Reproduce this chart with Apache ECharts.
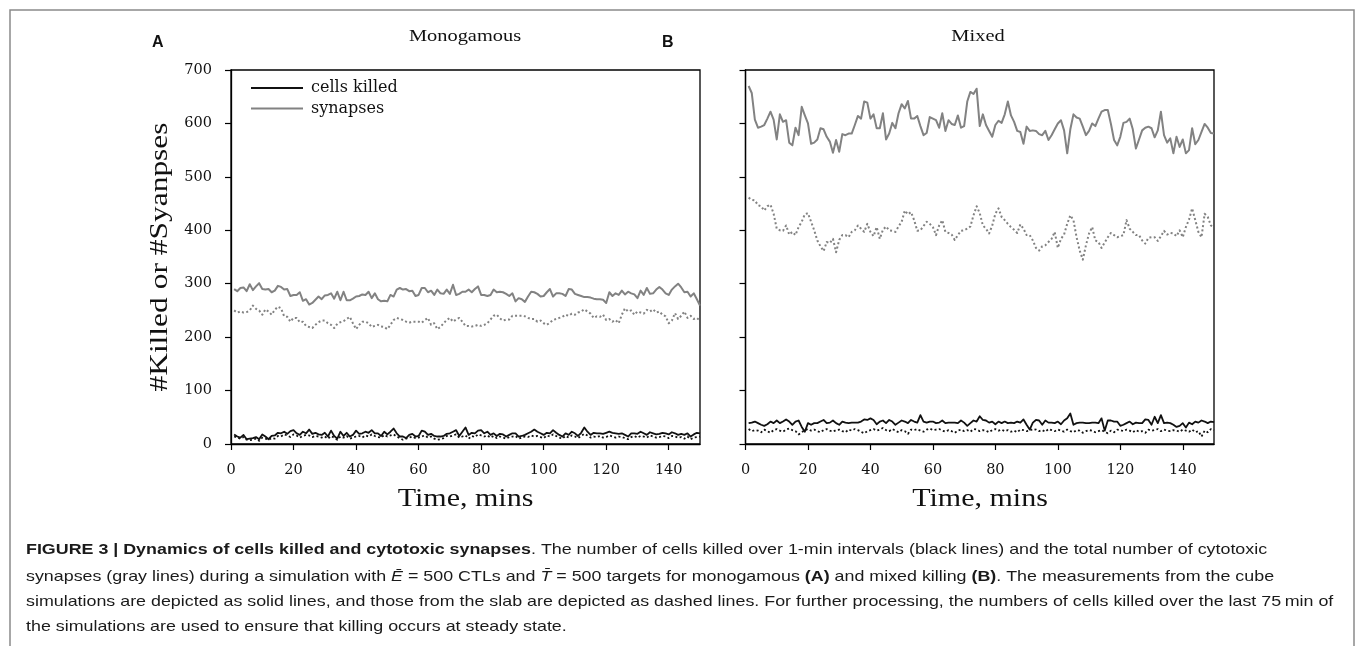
<!DOCTYPE html>
<html><head><meta charset="utf-8">
<script src="https://cdn.jsdelivr.net/npm/echarts@6/dist/echarts.min.js"></script>
<style>html,body{margin:0;padding:0;background:#fff}#c{width:1355px;height:646px}</style>
</head><body><div id="c"></div>
<script>
// time steps (minutes)
const times = Array.from({length:150}, (_, i) => i + 1);
const xTicks = [0, 20, 40, 60, 80, 100, 120, 140];

// Monogamous: synapses (cube, solid)
const monoSynCube = [
290,286,292,293,286,299,288,295,301,290,
289,290,284,287,296,294,289,290,277,279,
279,284,268,271,261,264,270,276,271,278,
279,282,272,285,269,285,269,269,272,276,
277,280,279,285,273,282,271,267,268,267,
279,276,289,292,289,290,286,287,277,279,
292,292,284,287,279,289,282,281,289,281,
298,279,281,285,285,289,284,290,295,279,
279,277,279,289,284,285,284,281,277,282,
267,273,271,266,276,285,284,281,276,277,
284,290,276,282,282,281,277,290,289,281,
279,277,275,275,274,272,271,271,270,264,
284,277,282,279,287,280,285,282,280,273,
287,279,292,281,282,289,294,289,282,279,
289,295,300,293,284,285,276,282,271,259];
// Monogamous: synapses (slab, dotted)
const monoSynSlab = [
250,246,248,246,247,250,259,253,250,242,
252,248,242,251,257,254,239,238,229,236,
236,228,229,221,219,217,223,228,231,231,
226,223,217,225,228,230,234,238,226,215,
223,229,229,226,219,221,223,220,219,215,
223,232,236,234,232,229,227,229,229,229,
227,232,236,223,226,215,219,226,232,236,
229,233,236,229,221,221,220,221,223,221,
223,226,233,240,242,235,231,233,233,240,
240,240,240,239,236,234,234,229,231,226,
223,227,232,234,236,238,242,240,244,242,
246,248,252,248,244,236,239,238,242,232,
234,229,232,226,242,254,248,250,242,248,
246,244,251,248,252,246,248,242,239,226,
231,245,234,240,248,236,240,234,236,231];
// Monogamous: cells killed (cube, solid)
const monoKillCube = [
18,14,12,17,9,10,11,13,9,18,
14,9,15,16,21,20,23,19,24,26,
20,17,23,20,27,19,21,18,17,21,
14,25,15,10,23,15,21,14,17,25,
19,20,23,21,26,20,20,15,23,18,
23,29,20,14,14,11,17,19,14,15,
25,23,17,19,15,14,14,15,19,20,
23,26,15,23,31,17,21,20,25,26,
20,23,17,20,15,19,18,14,17,20,
20,14,15,17,20,23,27,23,20,17,
21,20,26,21,17,14,20,17,23,20,
15,21,31,23,17,21,20,20,19,21,
23,21,20,19,20,17,14,20,20,19,
23,20,17,22,20,18,19,21,20,18,
22,20,17,19,17,20,14,18,21,20];
// Monogamous: cells killed (slab, dotted)
const monoKillSlab = [
14,12,10,13,8,7,8,10,6,12,
10,8,11,10,15,14,18,16,13,18,
16,12,15,17,16,13,15,14,12,14,
10,15,12,8,14,12,15,10,12,14,
15,12,16,14,18,15,13,12,17,14,
16,18,14,11,8,10,12,14,11,12,
14,16,12,14,10,8,9,11,15,14,
16,18,12,14,16,10,15,13,18,16,
14,16,12,15,11,14,12,10,13,14,
15,10,12,14,13,16,14,15,13,11,
16,14,18,15,12,10,15,12,16,14,
11,15,19,16,12,14,13,15,12,13,
16,14,12,14,13,11,9,13,15,12,
15,14,12,16,14,12,13,15,14,11,
15,14,12,13,10,14,9,12,13,14];
// Mixed: synapses (cube, solid)
const mixSynCube = [
670,657,607,592,594,597,609,622,607,570,
617,603,606,564,559,592,578,631,615,600,
562,564,570,591,589,575,566,545,569,547,
580,578,581,581,597,614,609,641,639,609,
617,591,591,619,570,581,601,591,619,636,
628,642,609,609,614,595,578,582,612,609,
606,592,619,586,606,599,597,615,592,595,
641,659,655,665,595,617,597,586,575,597,
605,601,617,641,615,603,586,584,562,594,
586,587,586,580,578,586,569,578,589,600,
606,587,544,589,617,611,609,594,578,586,
600,595,609,622,625,625,599,569,559,575,
601,603,609,589,553,570,587,592,594,591,
574,587,622,578,564,572,544,575,556,570,
544,550,591,561,569,584,599,592,582,581];
// Mixed: synapses (slab, dotted)
const mixSynSlab = [
461,457,456,447,445,437,445,448,431,403,
400,399,409,392,397,391,406,416,430,432,
416,400,381,370,361,378,376,384,359,382,
391,391,387,397,400,409,403,397,412,397,
389,406,384,401,407,400,399,397,407,416,
437,430,434,419,399,400,408,416,412,406,
391,409,419,397,395,392,382,391,399,400,
403,407,428,445,432,409,403,394,409,431,
441,425,419,412,406,401,395,411,403,391,
391,381,367,362,370,372,378,384,397,367,
384,392,412,428,419,387,362,345,372,394,
406,381,378,367,377,387,395,391,387,389,
391,419,403,397,391,391,381,375,386,387,
387,380,389,399,392,395,394,389,400,387,
406,420,441,419,397,387,431,425,409,405];
// Mixed: cells killed (cube, solid)
const mixKillCube = [
39,40,42,39,36,34,37,42,39,44,
39,42,46,42,36,42,44,32,23,39,
36,39,39,42,45,39,40,44,39,36,
42,40,39,40,40,40,42,46,45,48,
45,37,42,44,39,45,42,36,40,44,
42,39,45,42,40,54,42,40,42,42,
39,40,44,39,40,40,40,39,44,40,
34,39,44,42,52,45,44,40,42,37,
42,39,42,39,40,39,42,40,46,36,
27,40,45,44,36,44,40,40,39,42,
37,44,48,57,36,39,40,40,39,39,
40,40,39,48,25,44,44,42,42,34,
36,39,42,37,40,39,39,46,45,36,
51,39,54,39,40,39,36,32,34,39,
31,40,37,42,40,44,42,39,42,41];
// Mixed: cells killed (slab, dotted)
const mixKillSlab = [
28,24,26,25,22,27,24,21,26,28,
25,23,27,29,26,24,18,22,26,28,
25,27,24,22,26,28,25,23,26,27,
24,22,27,25,28,26,23,20,24,26,
28,25,27,30,26,24,28,25,22,26,
24,19,27,26,28,25,23,27,29,26,
27,28,25,23,26,24,21,25,27,24,
26,23,28,27,24,26,25,22,26,28,
25,27,24,26,23,25,22,27,26,24,
25,28,27,24,26,23,28,26,24,27,
25,23,27,24,22,26,25,21,24,26,
25,22,24,26,23,20,25,22,27,26,
24,27,25,22,26,23,24,21,27,25,
26,28,24,27,25,24,26,25,23,27,
25,23,27,22,24,14,25,22,28,26];

const GRAY = '#828282', BLACK = '#111';
const SERIF = '"Liberation Serif", serif';
const SERIF_W = '"DejaVu Serif", serif';
const SANS = '"Liberation Sans", Arial, sans-serif';
const pair = arr => times.map((t, i) => [t, arr[i]]);

function xAxis(idx) {
  return {
    type: 'value', gridIndex: idx, min: 0, max: 150,
    axisLine: {show: true, lineStyle: {color: '#000', width: 1.3}},
    axisTick: {show: true, inside: false, length: 6, customValues: xTicks, lineStyle: {color: '#000', width: 1.2}},
    axisLabel: {customValues: xTicks, margin: 19, color: '#111', fontFamily: SERIF_W, fontSize: 14.5},
    splitLine: {show: false}
  };
}
function yAxis(idx, labels) {
  return {
    type: 'value', gridIndex: idx, min: 0, max: 700, interval: 100,
    axisLine: {show: true, lineStyle: {color: '#000', width: 1.3}},
    axisTick: {show: true, length: 6, lineStyle: {color: '#000', width: 1.2}},
    axisLabel: {show: labels, margin: 19, color: '#111', fontFamily: SERIF_W, fontSize: 14.5},
    splitLine: {show: false}
  };
}
function line(name, idx, arr, color, dotted, width) {
  return {
    name, type: 'line', xAxisIndex: idx, yAxisIndex: idx, data: pair(arr),
    showSymbol: false, symbol: 'none', animation: false, silent: true,
    lineStyle: {color, width, type: dotted ? [2, 2.4] : 'solid', cap: 'butt', join: 'round'},
    itemStyle: {color}
  };
}

const CAPFS = 15, CAPSX = 1.19;
const captionRich = {
  b: {fontFamily: SANS, fontSize: CAPFS, fontWeight: 'bold', fill: '#1a1a1a'},
  i: {fontFamily: SANS, fontSize: CAPFS, fontStyle: 'italic', fill: '#1a1a1a'}
};
function cap(y, text) {
  return {type: 'text', x: 26, y, scaleX: CAPSX, silent: true,
    style: {text, rich: captionRich, fontFamily: SANS, fontSize: CAPFS, fill: '#1a1a1a', textVerticalAlign: 'middle'}};
}
function stxt(x, y, text, size, sx, extra) {
  return Object.assign({type: 'text', x, y, scaleX: sx, silent: true,
    style: {text, fontFamily: SERIF, fontSize: size, fill: '#111', textAlign: 'center', textVerticalAlign: 'middle'}}, extra || {});
}

const chart = echarts.init(document.getElementById('c'), null, {renderer: 'canvas'});
chart.setOption({
  animation: false,
  backgroundColor: '#fff',
  grid: [
    {left: 231, top: 70, width: 469, height: 374, show: true, borderColor: '#000', borderWidth: 1.3, backgroundColor: 'transparent'},
    {left: 745.5, top: 70, width: 468.5, height: 374, show: true, borderColor: '#000', borderWidth: 1.3, backgroundColor: 'transparent'}
  ],
  xAxis: [xAxis(0), xAxis(1)],
  yAxis: [yAxis(0, true), yAxis(1, false)],
  legend: {
    left: 246, top: 73, orient: 'vertical', itemWidth: 52, itemHeight: 2, itemGap: 0.6,
    selectedMode: false,
    textStyle: {fontFamily: SERIF_W, fontSize: 16, color: '#111', lineHeight: 20, padding: [0, 0, 0, 3]},
    data: [{name: 'cells killed', icon: 'rect'}, {name: 'synapses', icon: 'rect'}]
  },
  series: [
    line('synapses', 0, monoSynCube, GRAY, false, 2),
    line('synapses (slab)', 0, monoSynSlab, GRAY, true, 2),
    line('cells killed', 0, monoKillCube, BLACK, false, 1.8),
    line('cells killed (slab)', 0, monoKillSlab, BLACK, true, 1.8),
    line('synapses ', 1, mixSynCube, GRAY, false, 2),
    line('synapses (slab) ', 1, mixSynSlab, GRAY, true, 2),
    line('cells killed ', 1, mixKillCube, BLACK, false, 1.8),
    line('cells killed (slab) ', 1, mixKillSlab, BLACK, true, 1.8)
  ],
  graphic: [
    {type: 'polyline', silent: true, shape: {points: [[10, 646], [10, 10], [1354, 10], [1354, 646]]},
      style: {stroke: '#8a8a8a', lineWidth: 1.5, fill: null}},
    stxt(465, 37, 'Monogamous', 17, 1.2),
    stxt(978, 37, 'Mixed', 17, 1.2),
    {type: 'text', x: 152, y: 43, silent: true, style: {text: 'A', fontFamily: SANS, fontWeight: 'bold', fontSize: 16, fill: '#111', textVerticalAlign: 'middle'}},
    {type: 'text', x: 662, y: 43, silent: true, style: {text: 'B', fontFamily: SANS, fontWeight: 'bold', fontSize: 16, fill: '#111', textVerticalAlign: 'middle'}},
    stxt(160, 257, '#Killed or #Syanpses', 26, 1.21, {rotation: Math.PI / 2}),
    stxt(465.5, 499, 'Time, mins', 25, 1.2),
    stxt(980, 499, 'Time, mins', 25, 1.2),
    cap(550, '{b|FIGURE 3 | Dynamics of cells killed and cytotoxic synapses}. The number of cells killed over 1-min intervals (black lines) and the total number of cytotoxic'),
    cap(576.5, 'synapses (gray lines) during a simulation with {i|E\u0304} = 500 CTLs and {i|T\u0304} = 500 targets for monogamous {b|(A)} and mixed killing {b|(B)}. The measurements from the cube'),
    cap(601.5, 'simulations are depicted as solid lines, and those from the slab are depicted as dashed lines. For further processing, the numbers of cells killed over the last 75\u2009min of'),
    cap(626.5, 'the simulations are used to ensure that killing occurs at steady state.')
  ]
});
</script>
</body></html>
